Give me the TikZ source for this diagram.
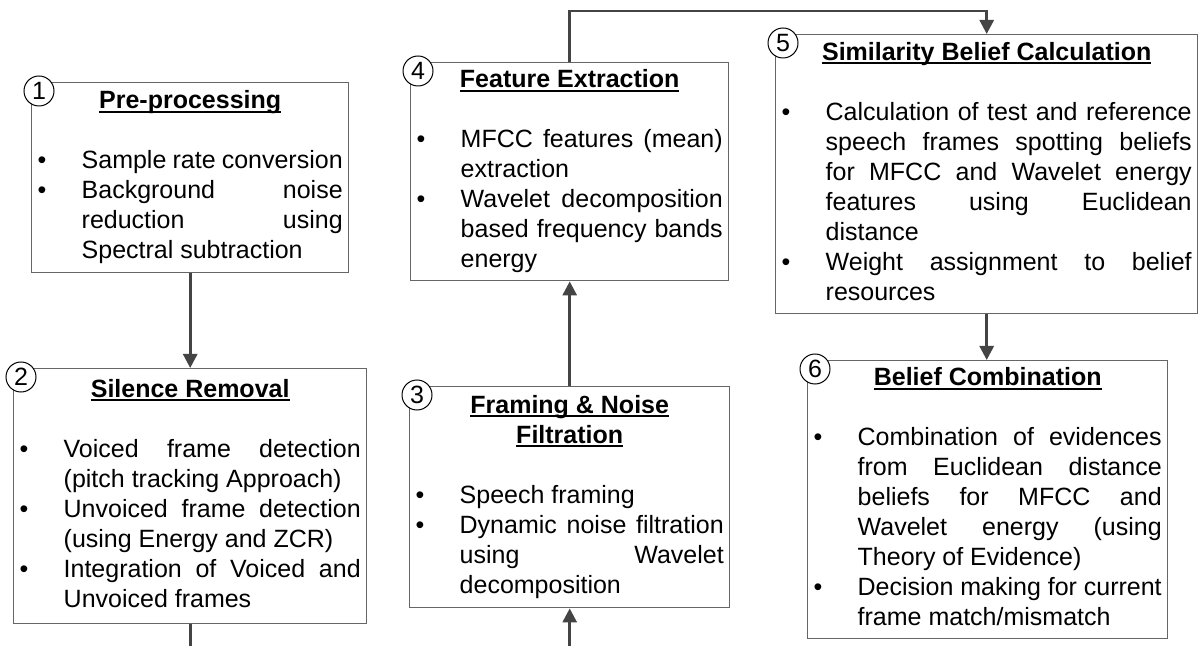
\documentclass[tikz,border=0pt]{standalone}
\usepackage{fontspec}
\setmainfont{Liberation Sans}
\usetikzlibrary{arrows.meta}

\definecolor{boxline}{HTML}{666666}
\definecolor{connline}{HTML}{444444}

\hyphenpenalty=10000
\exhyphenpenalty=10000
\tolerance=10000

% underlined bold title and bullet items
\newcommand{\ulbf}[1]{\leavevmode\setbox0\hbox{\bfseries #1}\rlap{\rule[-2pt]{\wd0}{0.9pt}}\box0}
\newcommand{\stitle}[1]{{\centering\noindent\strut #1\par}\vskip\baselineskip}
\newcommand{\bitem}[1]{\par\hangindent=22pt\hangafter=1\noindent\hbox to 22pt{\textbullet\hfil}\strut #1\strut\par}

\begin{document}
\begin{tikzpicture}[x=0.5pt, y=-0.5pt,
                    stage/.style={draw=boxline, line width=0.7pt, anchor=north west, align=justify,
                                  inner xsep=3pt, inner ysep=2pt, font=\fontsize{12.5}{15}\selectfont},
                    num/.style={circle, draw=black, line width=0.5pt, fill=white, inner sep=0pt,
                                minimum size=15pt, font=\fontsize{12.5}{15}\selectfont},
                    conn/.style={draw=connline, line width=1.4pt, -{Triangle[length=7pt, width=7pt]}}]

                    \useasboundingbox (0,0) rectangle (1198,646);

                    % Define nodes
                    \node[stage, text width=152.5pt, minimum height=95pt] (pre) at (31,82) {%
                        \stitle{\ulbf{Pre-processing}}%
                        \bitem{Sample rate conversion}%
                        \bitem{Background noise\linebreak reduction using\linebreak Spectral subtraction}}; % Stage 1
                    \node[stage, text width=170.5pt, minimum height=127.5pt] (sil) at (13,368) {%
                        \stitle{\ulbf{Silence Removal}}%
                        \bitem{Voiced frame detection\linebreak (pitch tracking Approach)}%
                        \bitem{Unvoiced frame detection\linebreak (using Energy and ZCR)}%
                        \bitem{Integration of Voiced and\linebreak Unvoiced frames}}; % Stage 2
                    \node[stage, text width=154pt, minimum height=110.5pt] (frm) at (409,386) {%
                        \stitle{\ulbf{Framing \& Noise}\par\noindent\ulbf{Filtration}}%
                        \bitem{Speech framing}%
                        \bitem{Dynamic noise filtration\linebreak using Wavelet\linebreak decomposition}}; % Stage 3
                    \node[stage, text width=153pt, minimum height=108.5pt] (feat) at (410,62) {%
                        \stitle{\ulbf{Feature Extraction}}%
                        \bitem{MFCC features (mean)\linebreak extraction}%
                        \bitem{Wavelet decomposition\linebreak based frequency bands\linebreak energy}}; % Stage 4
                    \node[stage, text width=205pt, minimum height=139.5pt] (sim) at (775,34) {%
                        \stitle{\ulbf{Similarity Belief Calculation}}%
                        \bitem{Calculation of test and reference\linebreak speech frames spotting beliefs\linebreak for MFCC and Wavelet energy\linebreak features using Euclidean\linebreak distance}%
                        \bitem{Weight assignment to belief\linebreak resources}}; % Stage 5
                    \node[stage, text width=174pt, minimum height=136.5pt] (comb) at (807,360) {%
                        \stitle{\ulbf{Belief Combination}}%
                        \bitem{Combination of evidences\linebreak from Euclidean distance\linebreak beliefs for MFCC and\linebreak Wavelet energy (using\linebreak Theory of Evidence)}%
                        \bitem{Decision making for current\linebreak frame match/mismatch}}; % Stage 6

                    % Stage numbers
                    \node[num] (n1) at ([shift={(8,9)}]pre.north west) {1};
                    \node[num] (n2) at ([shift={(8,9)}]sil.north west) {2};
                    \node[num] (n3) at ([shift={(8,9)}]frm.north west) {3};
                    \node[num] (n4) at ([shift={(8,9)}]feat.north west) {4};
                    \node[num] (n5) at ([shift={(8,9)}]sim.north west) {5};
                    \node[num] (n6) at ([shift={(8,9)}]comb.north west) {6};

                    % Define edges
                    \coordinate (bot) at (0,646);
                    \coordinate (top) at (780,11);
                    \path [conn] (pre.south) -- (pre.south |- sil.north);
                    \path [conn, -] (sil.south) -- (sil.south |- bot);
                    \path [conn] (frm.south |- bot) -- (frm.south);
                    \path [conn] (frm.north) -- (frm.north |- feat.south);
                    \path [conn] (feat.north) |- (top) -| (sim.north);
                    \path [conn] (sim.south) -- (sim.south |- comb.north);
                \end{tikzpicture}
\end{document}
